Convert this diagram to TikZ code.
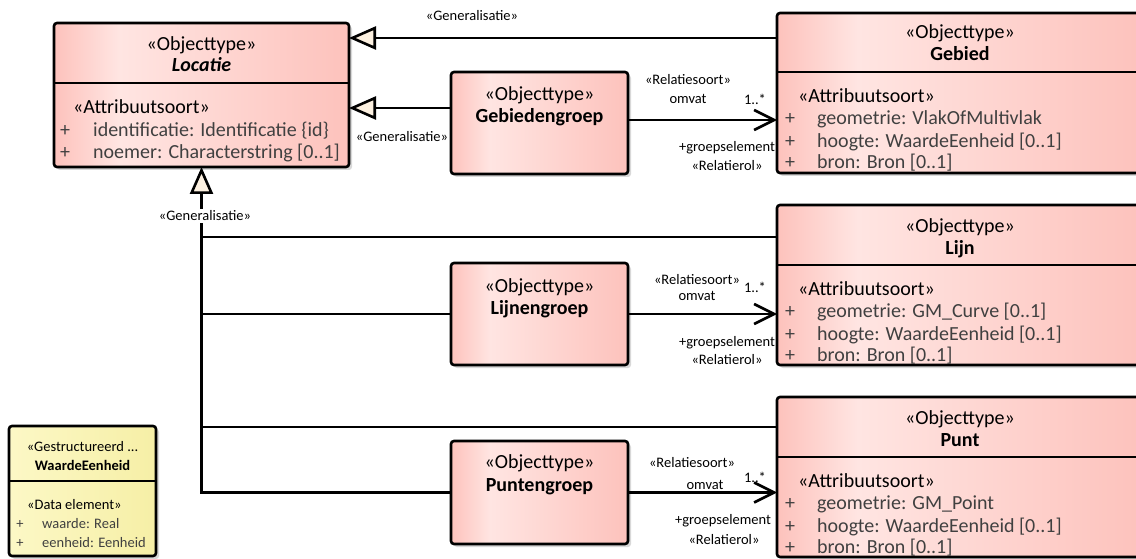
\documentclass[tikz,border=0pt]{standalone}
\usepackage{fontspec}
\setmainfont{Carlito}
\usetikzlibrary{arrows.meta,shadows}

\definecolor{pkD}{HTML}{FDC2BC}
\definecolor{pkL}{HTML}{FFE5E2}
\definecolor{ylL}{HTML}{FCF8C6}
\definecolor{ylD}{HTML}{F6EFA6}
\definecolor{crm}{HTML}{FCF0E0}
\definecolor{attgrey}{HTML}{404040}
\pgfdeclarehorizontalshading{objshade}{100bp}{color(0bp)=(pkD); color(25bp)=(pkD); color(36bp)=(pkL); color(75bp)=(pkD); color(100bp)=(pkD)}
\pgfdeclarehorizontalshading{dtshade}{100bp}{color(0bp)=(ylL); color(25bp)=(ylL); color(75bp)=(ylD); color(100bp)=(ylD)}

\tikzset{
	objbox/.style={draw=black, line width=2.6pt, rounded corners=3pt, shading=objshade, anchor=north west, inner sep=0pt, outer sep=0pt, drop shadow={shadow xshift=3pt, shadow yshift=-3pt, opacity=0.25, fill=black!60}},
	dtbox/.style={objbox, shading=dtshade},
	divline/.style={line width=2.2pt},
	stereo/.style={font=\fontsize{20}{22}\selectfont, anchor=mid, inner sep=0pt, yshift=-3.5pt},
	clsname/.style={font=\fontsize{20}{22}\selectfont\bfseries, anchor=mid, inner sep=0pt, yshift=-3.5pt},
	attst/.style={font=\fontsize{20}{22}\selectfont, anchor=mid west, inner sep=0pt, yshift=-3.5pt},
	plus/.style={font=\fontsize{20}{22}\selectfont, text=attgrey, anchor=mid, inner sep=0pt, yshift=-3.5pt},
	att/.style={font=\fontsize{20}{22}\selectfont, text=attgrey, anchor=mid west, inner sep=0pt, yshift=-3.5pt},
	lbl/.style={font=\fontsize{14.5}{16}\selectfont, anchor=mid, inner sep=0pt, yshift=-2.5pt},
	conn/.style={line width=2.6pt},
	genl/.style={conn, -{Triangle[length=27pt,width=23pt,fill=crm]}},
	assoc/.style={conn, -{Straight Barb[length=20pt,width=20pt]}}
}

\begin{document}
\begin{tikzpicture}[x=1pt, y=-1pt]
			%%%%% START %%%%%
			
			\fill[white] (0,0) rectangle (1136,559);
			\useasboundingbox (0,0) rectangle (1136,559);
			
			% Locatie
			\node[objbox, minimum width=295pt, minimum height=144pt] (locatie) at (54,23) {};
			\draw[divline] (locatie.west |- 0,83) -- (locatie.east |- 0,83);
			\node[stereo] (locatie-st) at (201.5,45) {«Objecttype»};
			\node[clsname, font=\fontsize{20}{22}\selectfont\bfseries\itshape] (locatie-nm) at (201.5,66) {Locatie};
			\node[attst] (locatie-as) at (73,108) {«Attribuutsoort»};
			\node[plus] (locatie-p1) at (65,131) {+};
			\node[att] (locatie-a1) at (93,131) {identificatie: Identificatie \{id\}};
			\node[plus] (locatie-p2) at (65,153) {+};
			\node[att] (locatie-a2) at (93,153) {noemer: Characterstring [0..1]};
			
			% Gebied
			\node[objbox, minimum width=366pt, minimum height=160pt] (gebied) at (777,13) {};
			\draw[divline] (gebied.west |- 0,72) -- (gebied.east |- 0,72);
			\node[stereo] (gebied-st) at (960,33) {«Objecttype»};
			\node[clsname] (gebied-nm) at (960,55) {Gebied};
			\node[attst] (gebied-as) at (798,97) {«Attribuutsoort»};
			\node[plus] (gebied-p1) at (790,119) {+};
			\node[att] (gebied-a1) at (817,119) {geometrie: VlakOfMultivlak};
			\node[plus] (gebied-p2) at (790,142) {+};
			\node[att] (gebied-a2) at (817,142) {hoogte: WaardeEenheid [0..1]};
			\node[plus] (gebied-p3) at (790,163) {+};
			\node[att] (gebied-a3) at (817,163) {bron: Bron [0..1]};
			
			% Lijn
			\node[objbox, minimum width=366pt, minimum height=160pt] (lijn) at (777,205) {};
			\draw[divline] (lijn.west |- 0,265) -- (lijn.east |- 0,265);
			\node[stereo] (lijn-st) at (960,227) {«Objecttype»};
			\node[clsname] (lijn-nm) at (960,249) {Lijn};
			\node[attst] (lijn-as) at (798,290) {«Attribuutsoort»};
			\node[plus] (lijn-p1) at (790,312) {+};
			\node[att] (lijn-a1) at (817,312) {geometrie: GM\_Curve [0..1]};
			\node[plus] (lijn-p2) at (790,335) {+};
			\node[att] (lijn-a2) at (817,335) {hoogte: WaardeEenheid [0..1]};
			\node[plus] (lijn-p3) at (790,356) {+};
			\node[att] (lijn-a3) at (817,356) {bron: Bron [0..1]};
			
			% Punt
			\node[objbox, minimum width=366pt, minimum height=160pt] (punt) at (777,397) {};
			\draw[divline] (punt.west |- 0,457) -- (punt.east |- 0,457);
			\node[stereo] (punt-st) at (960,419) {«Objecttype»};
			\node[clsname] (punt-nm) at (960,441) {Punt};
			\node[attst] (punt-as) at (798,482) {«Attribuutsoort»};
			\node[plus] (punt-p1) at (790,504) {+};
			\node[att] (punt-a1) at (817,504) {geometrie: GM\_Point};
			\node[plus] (punt-p2) at (790,527) {+};
			\node[att] (punt-a2) at (817,527) {hoogte: WaardeEenheid [0..1]};
			\node[plus] (punt-p3) at (790,548) {+};
			\node[att] (punt-a3) at (817,548) {bron: Bron [0..1]};
			
			% groepen
			\node[objbox, minimum width=177pt, minimum height=102pt] (gebiedengroep) at (451,72) {};
			\node[stereo] (gebiedengroep-st) at (539.5,95) {«Objecttype»};
			\node[clsname] (gebiedengroep-nm) at (539.5,117) {Gebiedengroep};
			
			\node[objbox, minimum width=177pt, minimum height=102pt] (lijnengroep) at (451,263) {};
			\node[stereo] (lijnengroep-st) at (539.5,287) {«Objecttype»};
			\node[clsname] (lijnengroep-nm) at (539.5,309) {Lijnengroep};
			
			\node[objbox, minimum width=177pt, minimum height=103pt] (puntengroep) at (451,441) {};
			\node[stereo] (puntengroep-st) at (539.5,463) {«Objecttype»};
			\node[clsname] (puntengroep-nm) at (539.5,486) {Puntengroep};
			
			% WaardeEenheid
			\node[dtbox, minimum width=147pt, minimum height=130pt] (waardeeenheid) at (9,426) {};
			\draw[divline] (waardeeenheid.west |- 0,481) -- (waardeeenheid.east |- 0,481);
			\node[lbl] (waardeeenheid-st) at (82.5,447) {«Gestructureerd ...};
			\node[lbl, font=\fontsize{14.5}{16}\selectfont\bfseries] (waardeeenheid-nm) at (82.5,466) {WaardeEenheid};
			\node[lbl, anchor=mid west] (waardeeenheid-as) at (27,505) {«Data element»};
			\node[lbl, text=attgrey] (waardeeenheid-p1) at (20,524) {+};
			\node[lbl, text=attgrey, anchor=mid west] (waardeeenheid-a1) at (42,524) {waarde: Real};
			\node[lbl, text=attgrey] (waardeeenheid-p2) at (20,543) {+};
			\node[lbl, text=attgrey, anchor=mid west] (waardeeenheid-a2) at (42,543) {eenheid: Eenheid};
			
			% generalisaties
			\draw[genl] (gebied.west |- 0,38) -- (locatie.east |- 0,38);
			\node[lbl] (gen1) at (472,16) {«Generalisatie»};
			
			\draw[genl] (gebiedengroep.west |- 0,108) -- (locatie.east |- 0,108);
			\node[lbl] (gen2) at (402,137) {«Generalisatie»};
			
			\draw[genl] (puntengroep.west) -| (locatie.south);
			\draw[conn] (lijn.west |- 0,237) -- (locatie.south |- 0,237);
			\draw[conn] (lijnengroep.west) -- (locatie.south |- lijnengroep.west);
			\draw[conn] (punt.west |- 0,427) -- (locatie.south |- 0,427);
			\node[lbl, fill=white, inner sep=2pt] (gen3) at (205,216) {«Generalisatie»};
			
			% relatiesoorten
			\draw[assoc] (gebiedengroep.east |- 0,120) -- (gebied.west |- 0,120);
			\node[lbl] (rel1-st) at (688,80) {«Relatiesoort»};
			\node[lbl] (rel1-nm) at (688,99) {omvat};
			\node[lbl] (rel1-mu) at (755,100) {1..*};
			\node[lbl] (rel1-rl) at (727,147) {+groepselement};
			\node[lbl] (rel1-rs) at (727,166) {«Relatierol»};
			
			\draw[assoc] (lijnengroep.east) -- (lijn.west |- lijnengroep.east);
			\node[lbl] (rel2-st) at (697,280) {«Relatiesoort»};
			\node[lbl] (rel2-nm) at (697,296) {omvat};
			\node[lbl] (rel2-mu) at (755,288) {1..*};
			\node[lbl] (rel2-rl) at (727,342) {+groepselement};
			\node[lbl] (rel2-rs) at (727,360) {«Relatierol»};
			
			\draw[assoc] (puntengroep.east) -- (punt.west |- puntengroep.east);
			\node[lbl] (rel3-st) at (692,463) {«Relatiesoort»};
			\node[lbl] (rel3-nm) at (705,485) {omvat};
			\node[lbl] (rel3-mu) at (755,478) {1..*};
			\node[lbl] (rel3-rl) at (723,520) {+groepselement};
			\node[lbl] (rel3-rs) at (724,540) {«Relatierol»};
			
			%%%%% END %%%%%
\end{tikzpicture}
\end{document}
